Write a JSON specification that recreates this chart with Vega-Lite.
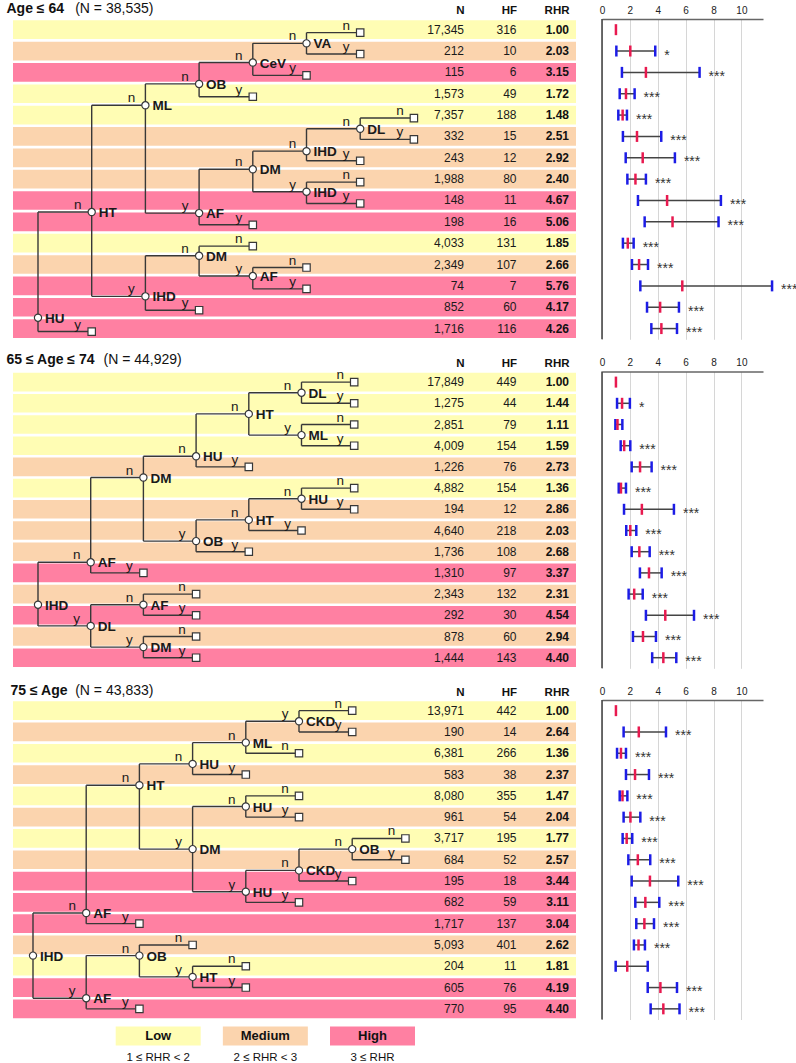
{
"$schema": "https://vega.github.io/schema/vega-lite/v6.json",
"padding": {"left": 3, "top": 1, "right": 4, "bottom": 4},
"background": "white",
"bounds": "flush",
"spacing": 31.5,
"config": {"font": "Liberation Sans", "view": {"stroke": null}},
"datasets": {
"rows1": [
{"r":0,"N":17345,"HF":316,"RHR":1.00,"risk":"Low","lo":null,"hi":null,"sig":""},
{"r":1,"N":212,"HF":10,"RHR":2.03,"risk":"Medium","lo":1.03,"hi":3.82,"sig":"*"},
{"r":2,"N":115,"HF":6,"RHR":3.15,"risk":"High","lo":1.43,"hi":7.0,"sig":"***"},
{"r":3,"N":1573,"HF":49,"RHR":1.72,"risk":"Low","lo":1.27,"hi":2.34,"sig":"***"},
{"r":4,"N":7357,"HF":188,"RHR":1.48,"risk":"Low","lo":1.17,"hi":1.79,"sig":"***"},
{"r":5,"N":332,"HF":15,"RHR":2.51,"risk":"Medium","lo":1.5,"hi":4.25,"sig":"***"},
{"r":6,"N":243,"HF":12,"RHR":2.92,"risk":"Medium","lo":1.7,"hi":5.23,"sig":"***"},
{"r":7,"N":1988,"HF":80,"RHR":2.40,"risk":"Medium","lo":1.82,"hi":3.15,"sig":"***"},
{"r":8,"N":148,"HF":11,"RHR":4.67,"risk":"High","lo":2.58,"hi":8.53,"sig":"***"},
{"r":9,"N":198,"HF":16,"RHR":5.06,"risk":"High","lo":3.06,"hi":8.36,"sig":"***"},
{"r":10,"N":4033,"HF":131,"RHR":1.85,"risk":"Low","lo":1.5,"hi":2.27,"sig":"***"},
{"r":11,"N":2349,"HF":107,"RHR":2.66,"risk":"Medium","lo":2.15,"hi":3.3,"sig":"***"},
{"r":12,"N":74,"HF":7,"RHR":5.76,"risk":"High","lo":2.75,"hi":12.2,"sig":"***"},
{"r":13,"N":852,"HF":60,"RHR":4.17,"risk":"High","lo":3.23,"hi":5.52,"sig":"***"},
{"r":14,"N":1716,"HF":116,"RHR":4.26,"risk":"High","lo":3.54,"hi":5.38,"sig":"***"}
],
"rows2": [
{"r":0,"N":17849,"HF":449,"RHR":1.00,"risk":"Low","lo":null,"hi":null,"sig":""},
{"r":1,"N":1275,"HF":44,"RHR":1.44,"risk":"Low","lo":1.08,"hi":2.0,"sig":"*"},
{"r":2,"N":2851,"HF":79,"RHR":1.11,"risk":"Low","lo":0.96,"hi":1.46,"sig":""},
{"r":3,"N":4009,"HF":154,"RHR":1.59,"risk":"Low","lo":1.34,"hi":2.03,"sig":"***"},
{"r":4,"N":1226,"HF":76,"RHR":2.73,"risk":"Medium","lo":2.13,"hi":3.56,"sig":"***"},
{"r":5,"N":4882,"HF":154,"RHR":1.36,"risk":"Low","lo":1.2,"hi":1.72,"sig":"***"},
{"r":6,"N":194,"HF":12,"RHR":2.86,"risk":"Medium","lo":1.58,"hi":5.16,"sig":"***"},
{"r":7,"N":4640,"HF":218,"RHR":2.03,"risk":"Medium","lo":1.74,"hi":2.46,"sig":"***"},
{"r":8,"N":1736,"HF":108,"RHR":2.68,"risk":"Medium","lo":2.13,"hi":3.42,"sig":"***"},
{"r":9,"N":1310,"HF":97,"RHR":3.37,"risk":"High","lo":2.72,"hi":4.28,"sig":"***"},
{"r":10,"N":2343,"HF":132,"RHR":2.31,"risk":"Medium","lo":1.91,"hi":2.92,"sig":"***"},
{"r":11,"N":292,"HF":30,"RHR":4.54,"risk":"High","lo":3.15,"hi":6.6,"sig":"***"},
{"r":12,"N":878,"HF":60,"RHR":2.94,"risk":"Medium","lo":2.22,"hi":3.87,"sig":"***"},
{"r":13,"N":1444,"HF":143,"RHR":4.40,"risk":"High","lo":3.6,"hi":5.33,"sig":"***"}
],
"rows3": [
{"r":0,"N":13971,"HF":442,"RHR":1.00,"risk":"Low","lo":null,"hi":null,"sig":""},
{"r":1,"N":190,"HF":14,"RHR":2.64,"risk":"Medium","lo":1.55,"hi":4.59,"sig":"***"},
{"r":2,"N":6381,"HF":266,"RHR":1.36,"risk":"Low","lo":1.08,"hi":1.72,"sig":"***"},
{"r":3,"N":583,"HF":38,"RHR":2.37,"risk":"Medium","lo":1.72,"hi":3.37,"sig":"***"},
{"r":4,"N":8080,"HF":355,"RHR":1.47,"risk":"Low","lo":1.27,"hi":1.82,"sig":"***"},
{"r":5,"N":961,"HF":54,"RHR":2.04,"risk":"Medium","lo":1.55,"hi":2.75,"sig":"***"},
{"r":6,"N":3717,"HF":195,"RHR":1.77,"risk":"Low","lo":1.48,"hi":2.17,"sig":"***"},
{"r":7,"N":684,"HF":52,"RHR":2.57,"risk":"Medium","lo":1.89,"hi":3.46,"sig":"***"},
{"r":8,"N":195,"HF":18,"RHR":3.44,"risk":"High","lo":2.13,"hi":5.47,"sig":"***"},
{"r":9,"N":682,"HF":59,"RHR":3.11,"risk":"High","lo":2.39,"hi":4.11,"sig":"***"},
{"r":10,"N":1717,"HF":137,"RHR":3.04,"risk":"High","lo":2.46,"hi":3.73,"sig":"***"},
{"r":11,"N":5093,"HF":401,"RHR":2.62,"risk":"Medium","lo":2.29,"hi":3.08,"sig":"***"},
{"r":12,"N":204,"HF":11,"RHR":1.81,"risk":"Low","lo":0.98,"hi":3.28,"sig":""},
{"r":13,"N":605,"HF":76,"RHR":4.19,"risk":"High","lo":3.28,"hi":5.38,"sig":"***"},
{"r":14,"N":770,"HF":95,"RHR":4.40,"risk":"High","lo":3.49,"hi":5.56,"sig":"***"}
],
"tree1": [
{"id":"a","lvl":0,"r":13.35,"name":"HU","leaf":false},
{"id":"b","p":"a","plvl":0,"lvl":1,"r":8.4,"br":"n","name":"HT","leaf":false},
{"id":"c","p":"b","plvl":1,"lvl":2,"r":3.4,"br":"n","name":"ML","leaf":false},
{"id":"d","p":"c","plvl":2,"lvl":3,"r":2.4,"br":"n","name":"OB","leaf":false},
{"id":"e","p":"d","plvl":3,"lvl":4,"r":1.4,"br":"n","name":"CeV","leaf":false},
{"id":"f","p":"e","plvl":4,"lvl":5,"r":0.5,"br":"n","name":"VA","leaf":false},
{"p":"f","plvl":5,"lvl":6,"r":0,"br":"n","leaf":true},
{"p":"f","plvl":5,"lvl":6,"r":1,"br":"y","leaf":true},
{"p":"e","plvl":4,"lvl":5,"r":2,"br":"y","leaf":true},
{"p":"d","plvl":3,"lvl":4,"r":3,"br":"y","leaf":true},
{"id":"g","p":"c","plvl":2,"lvl":3,"r":8.45,"br":"y","name":"AF","leaf":false},
{"id":"h","p":"g","plvl":3,"lvl":4,"r":6.4,"br":"n","name":"DM","leaf":false},
{"id":"i","p":"h","plvl":4,"lvl":5,"r":5.55,"br":"n","name":"IHD","leaf":false},
{"id":"j","p":"i","plvl":5,"lvl":6,"r":4.5,"br":"n","name":"DL","leaf":false},
{"p":"j","plvl":6,"lvl":7,"r":4,"br":"n","leaf":true},
{"p":"j","plvl":6,"lvl":7,"r":5,"br":"y","leaf":true},
{"p":"i","plvl":5,"lvl":6,"r":6,"br":"y","leaf":true},
{"id":"k","p":"h","plvl":4,"lvl":5,"r":7.45,"br":"y","name":"IHD","leaf":false},
{"p":"k","plvl":5,"lvl":6,"r":7,"br":"n","leaf":true},
{"p":"k","plvl":5,"lvl":6,"r":8,"br":"y","leaf":true},
{"p":"g","plvl":3,"lvl":4,"r":9,"br":"y","leaf":true},
{"id":"l","p":"b","plvl":1,"lvl":2,"r":12.35,"br":"y","name":"IHD","leaf":false},
{"id":"m","p":"l","plvl":2,"lvl":3,"r":10.45,"br":"n","name":"DM","leaf":false},
{"p":"m","plvl":3,"lvl":4,"r":10,"br":"n","leaf":true},
{"id":"o","p":"m","plvl":3,"lvl":4,"r":11.4,"br":"y","name":"AF","leaf":false},
{"p":"o","plvl":4,"lvl":5,"r":11,"br":"n","leaf":true},
{"p":"o","plvl":4,"lvl":5,"r":12,"br":"y","leaf":true},
{"p":"l","plvl":2,"lvl":3,"r":13,"br":"y","leaf":true},
{"p":"a","plvl":0,"lvl":1,"r":14,"br":"y","leaf":true}
],
"tree2": [
{"id":"a","lvl":0,"r":10.5,"name":"IHD","leaf":false},
{"id":"b","p":"a","plvl":0,"lvl":1,"r":8.5,"br":"n","name":"AF","leaf":false},
{"id":"c","p":"b","plvl":1,"lvl":2,"r":4.5,"br":"n","name":"DM","leaf":false},
{"id":"d","p":"c","plvl":2,"lvl":3,"r":3.5,"br":"n","name":"HU","leaf":false},
{"id":"e","p":"d","plvl":3,"lvl":4,"r":1.5,"br":"n","name":"HT","leaf":false},
{"id":"f","p":"e","plvl":4,"lvl":5,"r":0.5,"br":"n","name":"DL","leaf":false},
{"p":"f","plvl":5,"lvl":6,"r":0,"br":"n","leaf":true},
{"p":"f","plvl":5,"lvl":6,"r":1,"br":"y","leaf":true},
{"id":"g","p":"e","plvl":4,"lvl":5,"r":2.5,"br":"y","name":"ML","leaf":false},
{"p":"g","plvl":5,"lvl":6,"r":2,"br":"n","leaf":true},
{"p":"g","plvl":5,"lvl":6,"r":3,"br":"y","leaf":true},
{"p":"d","plvl":3,"lvl":4,"r":4,"br":"y","leaf":true},
{"id":"h","p":"c","plvl":2,"lvl":3,"r":7.5,"br":"y","name":"OB","leaf":false},
{"id":"i","p":"h","plvl":3,"lvl":4,"r":6.5,"br":"n","name":"HT","leaf":false},
{"id":"j","p":"i","plvl":4,"lvl":5,"r":5.5,"br":"n","name":"HU","leaf":false},
{"p":"j","plvl":5,"lvl":6,"r":5,"br":"n","leaf":true},
{"p":"j","plvl":5,"lvl":6,"r":6,"br":"y","leaf":true},
{"p":"i","plvl":4,"lvl":5,"r":7,"br":"y","leaf":true},
{"p":"h","plvl":3,"lvl":4,"r":8,"br":"y","leaf":true},
{"p":"b","plvl":1,"lvl":2,"r":9,"br":"y","leaf":true},
{"id":"k","p":"a","plvl":0,"lvl":1,"r":11.5,"br":"y","name":"DL","leaf":false},
{"id":"l","p":"k","plvl":1,"lvl":2,"r":10.5,"br":"n","name":"AF","leaf":false},
{"p":"l","plvl":2,"lvl":3,"r":10,"br":"n","leaf":true},
{"p":"l","plvl":2,"lvl":3,"r":11,"br":"y","leaf":true},
{"id":"m","p":"k","plvl":1,"lvl":2,"r":12.5,"br":"y","name":"DM","leaf":false},
{"p":"m","plvl":2,"lvl":3,"r":12,"br":"n","leaf":true},
{"p":"m","plvl":2,"lvl":3,"r":13,"br":"y","leaf":true}
],
"tree3": [
{"id":"a","lvl":0,"r":11.5,"name":"IHD","leaf":false},
{"id":"b","p":"a","plvl":0,"lvl":1,"r":9.5,"br":"n","name":"AF","leaf":false},
{"id":"c","p":"b","plvl":1,"lvl":2,"r":3.5,"br":"n","name":"HT","leaf":false},
{"id":"d","p":"c","plvl":2,"lvl":3,"r":2.5,"br":"n","name":"HU","leaf":false},
{"id":"e","p":"d","plvl":3,"lvl":4,"r":1.5,"br":"n","name":"ML","leaf":false},
{"id":"f","p":"e","plvl":4,"lvl":5,"r":0.5,"br":"y","name":"CKD","leaf":false},
{"p":"f","plvl":5,"lvl":6,"r":0,"br":"n","leaf":true},
{"p":"f","plvl":5,"lvl":6,"r":1,"br":"y","leaf":true},
{"p":"e","plvl":4,"lvl":5,"r":2,"br":"n","leaf":true},
{"p":"d","plvl":3,"lvl":4,"r":3,"br":"y","leaf":true},
{"id":"g","p":"c","plvl":2,"lvl":3,"r":6.5,"br":"y","name":"DM","leaf":false},
{"id":"h","p":"g","plvl":3,"lvl":4,"r":4.5,"br":"n","name":"HU","leaf":false},
{"p":"h","plvl":4,"lvl":5,"r":4,"br":"n","leaf":true},
{"p":"h","plvl":4,"lvl":5,"r":5,"br":"y","leaf":true},
{"id":"i","p":"g","plvl":3,"lvl":4,"r":8.5,"br":"y","name":"HU","leaf":false},
{"id":"j","p":"i","plvl":4,"lvl":5,"r":7.5,"br":"n","name":"CKD","leaf":false},
{"id":"k","p":"j","plvl":5,"lvl":6,"r":6.5,"br":"n","name":"OB","leaf":false},
{"p":"k","plvl":6,"lvl":7,"r":6,"br":"n","leaf":true},
{"p":"k","plvl":6,"lvl":7,"r":7,"br":"y","leaf":true},
{"p":"j","plvl":5,"lvl":6,"r":8,"br":"y","leaf":true},
{"p":"i","plvl":4,"lvl":5,"r":9,"br":"y","leaf":true},
{"p":"b","plvl":1,"lvl":2,"r":10,"br":"y","leaf":true},
{"id":"l","p":"a","plvl":0,"lvl":1,"r":13.5,"br":"y","name":"AF","leaf":false},
{"id":"m","p":"l","plvl":1,"lvl":2,"r":11.5,"br":"n","name":"OB","leaf":false},
{"p":"m","plvl":2,"lvl":3,"r":11,"br":"n","leaf":true},
{"id":"o","p":"m","plvl":2,"lvl":3,"r":12.5,"br":"y","name":"HT","leaf":false},
{"p":"o","plvl":3,"lvl":4,"r":12,"br":"n","leaf":true},
{"p":"o","plvl":3,"lvl":4,"r":13,"br":"y","leaf":true},
{"p":"l","plvl":1,"lvl":2,"r":14,"br":"y","leaf":true}
],
"legend": [
{"cat":"Low","grp":"RHR","range":"1 ≤ RHR < 2"},
{"cat":"Medium","grp":"RHR","range":"2 ≤ RHR < 3"},
{"cat":"High","grp":"RHR","range":"3 ≤ RHR"}
]
},
"vconcat": [
{
"width": 563, "height": 320.25,
"resolve": {"scale": {"x": "independent", "y": "independent"}},
"layer": [
{"data": {"name": "rows1"}, "mark": {"type": "rule", "strokeWidth": 18.7, "strokeCap": "butt"},
 "encoding": {
  "y": {"field": "r", "type": "quantitative", "scale": {"domain": [-0.5, 14.5], "reverse": true, "nice": false, "zero": false},
   "axis": {"title": "(N = 38,535)", "orient": "left", "labels": false, "ticks": false, "domain": false, "grid": false, "titleAngle": 0, "titleAlign": "left", "titleBaseline": "alphabetic", "titleX": 61.7, "titleY": -6.2, "titleFontSize": 14, "titleFontWeight": "normal", "titleColor": "#111111"}},
  "color": {"field": "risk", "type": "nominal", "scale": {"domain": ["Low", "Medium", "High"], "range": ["#FFFDB4", "#FBD4AE", "#FF80A2"]}, "legend": null}}},
{"data": {"name": "tree1"}, "transform": [{"filter": "datum.p != null"}], "mark": {"type": "rule", "color": "#383838", "strokeWidth": 1.4},
 "encoding": {
  "x": {"field": "plvl", "type": "quantitative", "scale": {"domain": [0, 7], "range": [25, 400.9], "nice": false, "zero": false},
   "axis": {"orient": "top", "labels": false, "ticks": false, "domain": false, "grid": false, "title": "Age ≤ 64", "titleX": -7, "titleY": -6.2, "titleAlign": "left", "titleBaseline": "alphabetic", "titleAngle": 0, "titleFontSize": 14, "titleFontWeight": "bold", "titleColor": "#111111"}},
  "x2": {"field": "lvl"},
  "y": {"field": "r", "type": "quantitative", "scale": {"domain": [-0.6405, 14.3595], "reverse": true, "nice": false, "zero": false}, "axis": null}}},
{"data": {"name": "tree1"}, "transform": [{"filter": "datum.p != null"}, {"aggregate": [{"op": "min", "field": "r", "as": "r"}, {"op": "max", "field": "r", "as": "r2"}], "groupby": ["p", "plvl"]}],
 "mark": {"type": "rule", "color": "#383838", "strokeWidth": 1.4},
 "encoding": {
  "x": {"field": "plvl", "type": "quantitative", "scale": {"domain": [0, 7], "range": [25, 400.9], "nice": false, "zero": false}, "axis": null},
  "y": {"field": "r", "type": "quantitative", "scale": {"domain": [-0.6405, 14.3595], "reverse": true, "nice": false, "zero": false}, "axis": null},
  "y2": {"field": "r2"}}},
{"data": {"name": "tree1"}, "transform": [{"filter": "datum.leaf"}],
 "mark": {"type": "point", "shape": "square", "size": 55, "filled": true, "fill": "#ffffff", "stroke": "#383838", "strokeWidth": 1.2, "opacity": 1},
 "encoding": {
  "x": {"field": "lvl", "type": "quantitative", "scale": {"domain": [0, 7], "range": [25, 400.9], "nice": false, "zero": false}, "axis": null},
  "y": {"field": "r", "type": "quantitative", "scale": {"domain": [-0.6405, 14.3595], "reverse": true, "nice": false, "zero": false}, "axis": null}}},
{"data": {"name": "tree1"}, "transform": [{"filter": "!datum.leaf"}],
 "mark": {"type": "point", "shape": "circle", "size": 52, "filled": true, "fill": "#ffffff", "stroke": "#383838", "strokeWidth": 1.2, "opacity": 1},
 "encoding": {
  "x": {"field": "lvl", "type": "quantitative", "scale": {"domain": [0, 7], "range": [25, 400.9], "nice": false, "zero": false}, "axis": null},
  "y": {"field": "r", "type": "quantitative", "scale": {"domain": [-0.6405, 14.3595], "reverse": true, "nice": false, "zero": false}, "axis": null}}},
{"data": {"name": "tree1"}, "transform": [{"filter": "!datum.leaf"}],
 "mark": {"type": "text", "align": "left", "baseline": "middle", "dx": 7, "dy": 1, "fontSize": 13.5, "fontWeight": "bold", "color": "#1a1a1a"},
 "encoding": {
  "x": {"field": "lvl", "type": "quantitative", "scale": {"domain": [0, 7], "range": [25, 400.9], "nice": false, "zero": false}, "axis": null},
  "y": {"field": "r", "type": "quantitative", "scale": {"domain": [-0.6405, 14.3595], "reverse": true, "nice": false, "zero": false}, "axis": null},
  "text": {"field": "name"}}},
{"data": {"name": "tree1"}, "transform": [{"filter": "datum.p != null"}],
 "mark": {"type": "text", "align": "center", "baseline": "alphabetic", "dx": -14, "dy": -3, "fontSize": 13.5, "color": "#1a1a1a"},
 "encoding": {
  "x": {"field": "lvl", "type": "quantitative", "scale": {"domain": [0, 7], "range": [25, 400.9], "nice": false, "zero": false}, "axis": null},
  "y": {"field": "r", "type": "quantitative", "scale": {"domain": [-0.6405, 14.3595], "reverse": true, "nice": false, "zero": false}, "axis": null},
  "text": {"field": "br"}}},
{"data": {"name": "rows1"}, "mark": {"type": "text", "align": "right", "baseline": "middle", "fontSize": 12, "color": "#1a1a1a"},
 "encoding": {
  "x": {"datum": "N", "type": "nominal", "scale": {"type": "point", "domain": ["N", "HF", "RHR"], "range": [451, 556], "padding": 0},
   "axis": {"orient": "top", "title": null, "ticks": false, "tickSize": 0, "domain": false, "grid": false, "labelAngle": 0, "labelAlign": "right", "labelFontSize": 11.5, "labelFontWeight": "bold", "labelPadding": 3.3, "labelColor": "#111111"}},
  "y": {"field": "r", "type": "quantitative", "scale": {"domain": [-0.5, 14.5], "reverse": true, "nice": false, "zero": false}, "axis": null},
  "text": {"field": "N", "type": "quantitative", "format": ","}}},
{"data": {"name": "rows1"}, "mark": {"type": "text", "align": "right", "baseline": "middle", "fontSize": 12, "color": "#1a1a1a"},
 "encoding": {
  "x": {"datum": "HF", "type": "nominal", "scale": {"type": "point", "domain": ["N", "HF", "RHR"], "range": [451, 556], "padding": 0}, "axis": null},
  "y": {"field": "r", "type": "quantitative", "scale": {"domain": [-0.5, 14.5], "reverse": true, "nice": false, "zero": false}, "axis": null},
  "text": {"field": "HF", "type": "quantitative"}}},
{"data": {"name": "rows1"}, "mark": {"type": "text", "align": "right", "baseline": "middle", "fontSize": 12, "fontWeight": "bold", "color": "#111111"},
 "encoding": {
  "x": {"datum": "RHR", "type": "nominal", "scale": {"type": "point", "domain": ["N", "HF", "RHR"], "range": [451, 556], "padding": 0}, "axis": null},
  "y": {"field": "r", "type": "quantitative", "scale": {"domain": [-0.5, 14.5], "reverse": true, "nice": false, "zero": false}, "axis": null},
  "text": {"field": "RHR", "type": "quantitative", "format": ".2f"}}},
{"data": {"name": "rows1"}, "transform": [{"filter": "datum.lo != null"}], "mark": {"type": "rule", "color": "#444444", "strokeWidth": 1.5},
 "encoding": {
  "x": {"field": "lo", "type": "quantitative", "scale": {"domain": [0, 11.55], "range": [589, 750], "nice": false, "zero": false},
   "axis": {"orient": "top", "values": [0, 2, 4, 6, 8, 10], "title": null, "grid": true, "gridColor": "#d6d6d6", "gridWidth": 1, "domain": true, "domainColor": "#666666", "domainWidth": 1.5, "ticks": false, "tickSize": 0, "labelFontSize": 10, "labelPadding": 4, "labelColor": "#222222", "labelFlush": false, "labelAngle": 0, "labelOverlap": false}},
  "x2": {"field": "hi"},
  "y": {"field": "r", "type": "quantitative", "scale": {"domain": [-0.5, 14.5], "reverse": true, "nice": false, "zero": false}, "axis": null}}},
{"data": {"values": [{}]}, "mark": {"type": "rule", "color": "#222222", "strokeWidth": 1.3},
 "encoding": {
  "x": {"datum": 0, "type": "quantitative", "scale": {"domain": [0, 11.55], "range": [589, 750], "nice": false, "zero": false}, "axis": null}}},
{"data": {"name": "rows1"}, "transform": [{"filter": "datum.lo != null"}], "mark": {"type": "tick", "orient": "vertical", "size": 11, "thickness": 2.5, "color": "#1c1ce6", "opacity": 1},
 "encoding": {
  "x": {"field": "lo", "type": "quantitative", "scale": {"domain": [0, 11.55], "range": [589, 750], "nice": false, "zero": false}, "axis": null},
  "y": {"field": "r", "type": "quantitative", "scale": {"domain": [-0.5, 14.5], "reverse": true, "nice": false, "zero": false}, "axis": null}}},
{"data": {"name": "rows1"}, "transform": [{"filter": "datum.hi != null"}], "mark": {"type": "tick", "orient": "vertical", "size": 11, "thickness": 2.5, "color": "#1c1ce6", "opacity": 1},
 "encoding": {
  "x": {"field": "hi", "type": "quantitative", "scale": {"domain": [0, 11.55], "range": [589, 750], "nice": false, "zero": false}, "axis": null},
  "y": {"field": "r", "type": "quantitative", "scale": {"domain": [-0.5, 14.5], "reverse": true, "nice": false, "zero": false}, "axis": null}}},
{"data": {"name": "rows1"}, "mark": {"type": "tick", "orient": "vertical", "size": 11, "thickness": 2.5, "color": "#e8194f", "opacity": 1},
 "encoding": {
  "x": {"field": "RHR", "type": "quantitative", "scale": {"domain": [0, 11.55], "range": [589, 750], "nice": false, "zero": false}, "axis": null},
  "y": {"field": "r", "type": "quantitative", "scale": {"domain": [-0.5, 14.5], "reverse": true, "nice": false, "zero": false}, "axis": null}}},
{"data": {"name": "rows1"}, "transform": [{"filter": "datum.hi != null"}], "mark": {"type": "text", "align": "left", "baseline": "alphabetic", "dx": 9, "dy": 8.5, "fontSize": 14, "color": "#333333"},
 "encoding": {
  "x": {"field": "hi", "type": "quantitative", "scale": {"domain": [0, 11.55], "range": [589, 750], "nice": false, "zero": false}, "axis": null},
  "y": {"field": "r", "type": "quantitative", "scale": {"domain": [-0.5, 14.5], "reverse": true, "nice": false, "zero": false}, "axis": null},
  "text": {"field": "sig"}}}
]
},
{
"width": 563, "height": 296.8,
"resolve": {"scale": {"x": "independent", "y": "independent"}},
"layer": [
{"data": {"name": "rows2"}, "mark": {"type": "rule", "strokeWidth": 18.6, "strokeCap": "butt"},
 "encoding": {
  "y": {"field": "r", "type": "quantitative", "scale": {"domain": [-0.5, 13.5], "reverse": true, "nice": false, "zero": false},
   "axis": {"title": "(N = 44,929)", "orient": "left", "labels": false, "ticks": false, "domain": false, "grid": false, "titleAngle": 0, "titleAlign": "left", "titleBaseline": "alphabetic", "titleX": 90, "titleY": -8.5, "titleFontSize": 14, "titleFontWeight": "normal", "titleColor": "#111111"}},
  "color": {"field": "risk", "type": "nominal", "scale": {"domain": ["Low", "Medium", "High"], "range": ["#FFFDB4", "#FBD4AE", "#FF80A2"]}, "legend": null}}},
{"data": {"name": "tree2"}, "transform": [{"filter": "datum.p != null"}], "mark": {"type": "rule", "color": "#383838", "strokeWidth": 1.4},
 "encoding": {
  "x": {"field": "plvl", "type": "quantitative", "scale": {"domain": [0, 7], "range": [25, 393.9], "nice": false, "zero": false},
   "axis": {"orient": "top", "labels": false, "ticks": false, "domain": false, "grid": false, "title": "65 ≤ Age ≤ 74", "titleX": -7, "titleY": -8.5, "titleAlign": "left", "titleBaseline": "alphabetic", "titleAngle": 0, "titleFontSize": 14, "titleFontWeight": "bold", "titleColor": "#111111"}},
  "x2": {"field": "lvl"},
  "y": {"field": "r", "type": "quantitative", "scale": {"domain": [-0.5, 13.5], "reverse": true, "nice": false, "zero": false}, "axis": null}}},
{"data": {"name": "tree2"}, "transform": [{"filter": "datum.p != null"}, {"aggregate": [{"op": "min", "field": "r", "as": "r"}, {"op": "max", "field": "r", "as": "r2"}], "groupby": ["p", "plvl"]}],
 "mark": {"type": "rule", "color": "#383838", "strokeWidth": 1.4},
 "encoding": {
  "x": {"field": "plvl", "type": "quantitative", "scale": {"domain": [0, 7], "range": [25, 393.9], "nice": false, "zero": false}, "axis": null},
  "y": {"field": "r", "type": "quantitative", "scale": {"domain": [-0.5, 13.5], "reverse": true, "nice": false, "zero": false}, "axis": null},
  "y2": {"field": "r2"}}},
{"data": {"name": "tree2"}, "transform": [{"filter": "datum.leaf"}],
 "mark": {"type": "point", "shape": "square", "size": 55, "filled": true, "fill": "#ffffff", "stroke": "#383838", "strokeWidth": 1.2, "opacity": 1},
 "encoding": {
  "x": {"field": "lvl", "type": "quantitative", "scale": {"domain": [0, 7], "range": [25, 393.9], "nice": false, "zero": false}, "axis": null},
  "y": {"field": "r", "type": "quantitative", "scale": {"domain": [-0.5, 13.5], "reverse": true, "nice": false, "zero": false}, "axis": null}}},
{"data": {"name": "tree2"}, "transform": [{"filter": "!datum.leaf"}],
 "mark": {"type": "point", "shape": "circle", "size": 52, "filled": true, "fill": "#ffffff", "stroke": "#383838", "strokeWidth": 1.2, "opacity": 1},
 "encoding": {
  "x": {"field": "lvl", "type": "quantitative", "scale": {"domain": [0, 7], "range": [25, 393.9], "nice": false, "zero": false}, "axis": null},
  "y": {"field": "r", "type": "quantitative", "scale": {"domain": [-0.5, 13.5], "reverse": true, "nice": false, "zero": false}, "axis": null}}},
{"data": {"name": "tree2"}, "transform": [{"filter": "!datum.leaf"}],
 "mark": {"type": "text", "align": "left", "baseline": "middle", "dx": 7, "dy": 1, "fontSize": 13.5, "fontWeight": "bold", "color": "#1a1a1a"},
 "encoding": {
  "x": {"field": "lvl", "type": "quantitative", "scale": {"domain": [0, 7], "range": [25, 393.9], "nice": false, "zero": false}, "axis": null},
  "y": {"field": "r", "type": "quantitative", "scale": {"domain": [-0.5, 13.5], "reverse": true, "nice": false, "zero": false}, "axis": null},
  "text": {"field": "name"}}},
{"data": {"name": "tree2"}, "transform": [{"filter": "datum.p != null"}],
 "mark": {"type": "text", "align": "center", "baseline": "alphabetic", "dx": -14, "dy": -3, "fontSize": 13.5, "color": "#1a1a1a"},
 "encoding": {
  "x": {"field": "lvl", "type": "quantitative", "scale": {"domain": [0, 7], "range": [25, 393.9], "nice": false, "zero": false}, "axis": null},
  "y": {"field": "r", "type": "quantitative", "scale": {"domain": [-0.5, 13.5], "reverse": true, "nice": false, "zero": false}, "axis": null},
  "text": {"field": "br"}}},
{"data": {"name": "rows2"}, "mark": {"type": "text", "align": "right", "baseline": "middle", "fontSize": 12, "color": "#1a1a1a"},
 "encoding": {
  "x": {"datum": "N", "type": "nominal", "scale": {"type": "point", "domain": ["N", "HF", "RHR"], "range": [451, 556], "padding": 0},
   "axis": {"orient": "top", "title": null, "ticks": false, "tickSize": 0, "domain": false, "grid": false, "labelAngle": 0, "labelAlign": "right", "labelFontSize": 11.5, "labelFontWeight": "bold", "labelPadding": 3, "labelColor": "#111111"}},
  "y": {"field": "r", "type": "quantitative", "scale": {"domain": [-0.5, 13.5], "reverse": true, "nice": false, "zero": false}, "axis": null},
  "text": {"field": "N", "type": "quantitative", "format": ","}}},
{"data": {"name": "rows2"}, "mark": {"type": "text", "align": "right", "baseline": "middle", "fontSize": 12, "color": "#1a1a1a"},
 "encoding": {
  "x": {"datum": "HF", "type": "nominal", "scale": {"type": "point", "domain": ["N", "HF", "RHR"], "range": [451, 556], "padding": 0}, "axis": null},
  "y": {"field": "r", "type": "quantitative", "scale": {"domain": [-0.5, 13.5], "reverse": true, "nice": false, "zero": false}, "axis": null},
  "text": {"field": "HF", "type": "quantitative"}}},
{"data": {"name": "rows2"}, "mark": {"type": "text", "align": "right", "baseline": "middle", "fontSize": 12, "fontWeight": "bold", "color": "#111111"},
 "encoding": {
  "x": {"datum": "RHR", "type": "nominal", "scale": {"type": "point", "domain": ["N", "HF", "RHR"], "range": [451, 556], "padding": 0}, "axis": null},
  "y": {"field": "r", "type": "quantitative", "scale": {"domain": [-0.5, 13.5], "reverse": true, "nice": false, "zero": false}, "axis": null},
  "text": {"field": "RHR", "type": "quantitative", "format": ".2f"}}},
{"data": {"name": "rows2"}, "transform": [{"filter": "datum.lo != null"}], "mark": {"type": "rule", "color": "#444444", "strokeWidth": 1.5},
 "encoding": {
  "x": {"field": "lo", "type": "quantitative", "scale": {"domain": [0, 11.55], "range": [589, 750], "nice": false, "zero": false},
   "axis": {"orient": "top", "values": [0, 2, 4, 6, 8, 10], "title": null, "grid": true, "gridColor": "#d6d6d6", "gridWidth": 1, "domain": true, "domainColor": "#666666", "domainWidth": 1.5, "ticks": false, "tickSize": 0, "labelFontSize": 10, "labelPadding": 3.7, "labelColor": "#222222", "labelFlush": false, "labelAngle": 0, "labelOverlap": false}},
  "x2": {"field": "hi"},
  "y": {"field": "r", "type": "quantitative", "scale": {"domain": [-0.5, 13.5], "reverse": true, "nice": false, "zero": false}, "axis": null}}},
{"data": {"values": [{}]}, "mark": {"type": "rule", "color": "#222222", "strokeWidth": 1.3},
 "encoding": {
  "x": {"datum": 0, "type": "quantitative", "scale": {"domain": [0, 11.55], "range": [589, 750], "nice": false, "zero": false}, "axis": null}}},
{"data": {"name": "rows2"}, "transform": [{"filter": "datum.lo != null"}], "mark": {"type": "tick", "orient": "vertical", "size": 11, "thickness": 2.5, "color": "#1c1ce6", "opacity": 1},
 "encoding": {
  "x": {"field": "lo", "type": "quantitative", "scale": {"domain": [0, 11.55], "range": [589, 750], "nice": false, "zero": false}, "axis": null},
  "y": {"field": "r", "type": "quantitative", "scale": {"domain": [-0.5, 13.5], "reverse": true, "nice": false, "zero": false}, "axis": null}}},
{"data": {"name": "rows2"}, "transform": [{"filter": "datum.hi != null"}], "mark": {"type": "tick", "orient": "vertical", "size": 11, "thickness": 2.5, "color": "#1c1ce6", "opacity": 1},
 "encoding": {
  "x": {"field": "hi", "type": "quantitative", "scale": {"domain": [0, 11.55], "range": [589, 750], "nice": false, "zero": false}, "axis": null},
  "y": {"field": "r", "type": "quantitative", "scale": {"domain": [-0.5, 13.5], "reverse": true, "nice": false, "zero": false}, "axis": null}}},
{"data": {"name": "rows2"}, "mark": {"type": "tick", "orient": "vertical", "size": 11, "thickness": 2.5, "color": "#e8194f", "opacity": 1},
 "encoding": {
  "x": {"field": "RHR", "type": "quantitative", "scale": {"domain": [0, 11.55], "range": [589, 750], "nice": false, "zero": false}, "axis": null},
  "y": {"field": "r", "type": "quantitative", "scale": {"domain": [-0.5, 13.5], "reverse": true, "nice": false, "zero": false}, "axis": null}}},
{"data": {"name": "rows2"}, "transform": [{"filter": "datum.hi != null"}], "mark": {"type": "text", "align": "left", "baseline": "alphabetic", "dx": 9, "dy": 8.5, "fontSize": 14, "color": "#333333"},
 "encoding": {
  "x": {"field": "hi", "type": "quantitative", "scale": {"domain": [0, 11.55], "range": [589, 750], "nice": false, "zero": false}, "axis": null},
  "y": {"field": "r", "type": "quantitative", "scale": {"domain": [-0.5, 13.5], "reverse": true, "nice": false, "zero": false}, "axis": null},
  "text": {"field": "sig"}}}
]
},
{
"width": 563, "height": 319.5,
"resolve": {"scale": {"x": "independent", "y": "independent"}},
"layer": [
{"data": {"name": "rows3"}, "mark": {"type": "rule", "strokeWidth": 18.7, "strokeCap": "butt"},
 "encoding": {
  "y": {"field": "r", "type": "quantitative", "scale": {"domain": [-0.5, 14.5], "reverse": true, "nice": false, "zero": false},
   "axis": {"title": "(N = 43,833)", "orient": "left", "labels": false, "ticks": false, "domain": false, "grid": false, "titleAngle": 0, "titleAlign": "left", "titleBaseline": "alphabetic", "titleX": 61.7, "titleY": -5.3, "titleFontSize": 14, "titleFontWeight": "normal", "titleColor": "#111111"}},
  "color": {"field": "risk", "type": "nominal", "scale": {"domain": ["Low", "Medium", "High"], "range": ["#FFFDB4", "#FBD4AE", "#FF80A2"]}, "legend": null}}},
{"data": {"name": "tree3"}, "transform": [{"filter": "datum.p != null"}], "mark": {"type": "rule", "color": "#383838", "strokeWidth": 1.4},
 "encoding": {
  "x": {"field": "plvl", "type": "quantitative", "scale": {"domain": [0, 7], "range": [20, 392.4], "nice": false, "zero": false},
   "axis": {"orient": "top", "labels": false, "ticks": false, "domain": false, "grid": false, "title": "75 ≤ Age", "titleX": -3, "titleY": -5.3, "titleAlign": "left", "titleBaseline": "alphabetic", "titleAngle": 0, "titleFontSize": 14, "titleFontWeight": "bold", "titleColor": "#111111"}},
  "x2": {"field": "lvl"},
  "y": {"field": "r", "type": "quantitative", "scale": {"domain": [-0.5, 14.5], "reverse": true, "nice": false, "zero": false}, "axis": null}}},
{"data": {"name": "tree3"}, "transform": [{"filter": "datum.p != null"}, {"aggregate": [{"op": "min", "field": "r", "as": "r"}, {"op": "max", "field": "r", "as": "r2"}], "groupby": ["p", "plvl"]}],
 "mark": {"type": "rule", "color": "#383838", "strokeWidth": 1.4},
 "encoding": {
  "x": {"field": "plvl", "type": "quantitative", "scale": {"domain": [0, 7], "range": [20, 392.4], "nice": false, "zero": false}, "axis": null},
  "y": {"field": "r", "type": "quantitative", "scale": {"domain": [-0.5, 14.5], "reverse": true, "nice": false, "zero": false}, "axis": null},
  "y2": {"field": "r2"}}},
{"data": {"name": "tree3"}, "transform": [{"filter": "datum.leaf"}],
 "mark": {"type": "point", "shape": "square", "size": 55, "filled": true, "fill": "#ffffff", "stroke": "#383838", "strokeWidth": 1.2, "opacity": 1},
 "encoding": {
  "x": {"field": "lvl", "type": "quantitative", "scale": {"domain": [0, 7], "range": [20, 392.4], "nice": false, "zero": false}, "axis": null},
  "y": {"field": "r", "type": "quantitative", "scale": {"domain": [-0.5, 14.5], "reverse": true, "nice": false, "zero": false}, "axis": null}}},
{"data": {"name": "tree3"}, "transform": [{"filter": "!datum.leaf"}],
 "mark": {"type": "point", "shape": "circle", "size": 52, "filled": true, "fill": "#ffffff", "stroke": "#383838", "strokeWidth": 1.2, "opacity": 1},
 "encoding": {
  "x": {"field": "lvl", "type": "quantitative", "scale": {"domain": [0, 7], "range": [20, 392.4], "nice": false, "zero": false}, "axis": null},
  "y": {"field": "r", "type": "quantitative", "scale": {"domain": [-0.5, 14.5], "reverse": true, "nice": false, "zero": false}, "axis": null}}},
{"data": {"name": "tree3"}, "transform": [{"filter": "!datum.leaf"}],
 "mark": {"type": "text", "align": "left", "baseline": "middle", "dx": 7, "dy": 1, "fontSize": 13.5, "fontWeight": "bold", "color": "#1a1a1a"},
 "encoding": {
  "x": {"field": "lvl", "type": "quantitative", "scale": {"domain": [0, 7], "range": [20, 392.4], "nice": false, "zero": false}, "axis": null},
  "y": {"field": "r", "type": "quantitative", "scale": {"domain": [-0.5, 14.5], "reverse": true, "nice": false, "zero": false}, "axis": null},
  "text": {"field": "name"}}},
{"data": {"name": "tree3"}, "transform": [{"filter": "datum.p != null"}],
 "mark": {"type": "text", "align": "center", "baseline": "alphabetic", "dx": -14, "dy": -3, "fontSize": 13.5, "color": "#1a1a1a"},
 "encoding": {
  "x": {"field": "lvl", "type": "quantitative", "scale": {"domain": [0, 7], "range": [20, 392.4], "nice": false, "zero": false}, "axis": null},
  "y": {"field": "r", "type": "quantitative", "scale": {"domain": [-0.5, 14.5], "reverse": true, "nice": false, "zero": false}, "axis": null},
  "text": {"field": "br"}}},
{"data": {"name": "rows3"}, "mark": {"type": "text", "align": "right", "baseline": "middle", "fontSize": 12, "color": "#1a1a1a"},
 "encoding": {
  "x": {"datum": "N", "type": "nominal", "scale": {"type": "point", "domain": ["N", "HF", "RHR"], "range": [451, 556], "padding": 0},
   "axis": {"orient": "top", "title": null, "ticks": false, "tickSize": 0, "domain": false, "grid": false, "labelAngle": 0, "labelAlign": "right", "labelFontSize": 11.5, "labelFontWeight": "bold", "labelPadding": 3, "labelColor": "#111111"}},
  "y": {"field": "r", "type": "quantitative", "scale": {"domain": [-0.5, 14.5], "reverse": true, "nice": false, "zero": false}, "axis": null},
  "text": {"field": "N", "type": "quantitative", "format": ","}}},
{"data": {"name": "rows3"}, "mark": {"type": "text", "align": "right", "baseline": "middle", "fontSize": 12, "color": "#1a1a1a"},
 "encoding": {
  "x": {"datum": "HF", "type": "nominal", "scale": {"type": "point", "domain": ["N", "HF", "RHR"], "range": [451, 556], "padding": 0}, "axis": null},
  "y": {"field": "r", "type": "quantitative", "scale": {"domain": [-0.5, 14.5], "reverse": true, "nice": false, "zero": false}, "axis": null},
  "text": {"field": "HF", "type": "quantitative"}}},
{"data": {"name": "rows3"}, "mark": {"type": "text", "align": "right", "baseline": "middle", "fontSize": 12, "fontWeight": "bold", "color": "#111111"},
 "encoding": {
  "x": {"datum": "RHR", "type": "nominal", "scale": {"type": "point", "domain": ["N", "HF", "RHR"], "range": [451, 556], "padding": 0}, "axis": null},
  "y": {"field": "r", "type": "quantitative", "scale": {"domain": [-0.5, 14.5], "reverse": true, "nice": false, "zero": false}, "axis": null},
  "text": {"field": "RHR", "type": "quantitative", "format": ".2f"}}},
{"data": {"name": "rows3"}, "transform": [{"filter": "datum.lo != null"}], "mark": {"type": "rule", "color": "#444444", "strokeWidth": 1.5},
 "encoding": {
  "x": {"field": "lo", "type": "quantitative", "scale": {"domain": [0, 11.55], "range": [589, 750], "nice": false, "zero": false},
   "axis": {"orient": "top", "values": [0, 2, 4, 6, 8, 10], "title": null, "grid": true, "gridColor": "#d6d6d6", "gridWidth": 1, "domain": true, "domainColor": "#666666", "domainWidth": 1.5, "ticks": false, "tickSize": 0, "labelFontSize": 10, "labelPadding": 3.7, "labelColor": "#222222", "labelFlush": false, "labelAngle": 0, "labelOverlap": false}},
  "x2": {"field": "hi"},
  "y": {"field": "r", "type": "quantitative", "scale": {"domain": [-0.5, 14.5], "reverse": true, "nice": false, "zero": false}, "axis": null}}},
{"data": {"values": [{}]}, "mark": {"type": "rule", "color": "#222222", "strokeWidth": 1.3},
 "encoding": {
  "x": {"datum": 0, "type": "quantitative", "scale": {"domain": [0, 11.55], "range": [589, 750], "nice": false, "zero": false}, "axis": null}}},
{"data": {"name": "rows3"}, "transform": [{"filter": "datum.lo != null"}], "mark": {"type": "tick", "orient": "vertical", "size": 11, "thickness": 2.5, "color": "#1c1ce6", "opacity": 1},
 "encoding": {
  "x": {"field": "lo", "type": "quantitative", "scale": {"domain": [0, 11.55], "range": [589, 750], "nice": false, "zero": false}, "axis": null},
  "y": {"field": "r", "type": "quantitative", "scale": {"domain": [-0.5, 14.5], "reverse": true, "nice": false, "zero": false}, "axis": null}}},
{"data": {"name": "rows3"}, "transform": [{"filter": "datum.hi != null"}], "mark": {"type": "tick", "orient": "vertical", "size": 11, "thickness": 2.5, "color": "#1c1ce6", "opacity": 1},
 "encoding": {
  "x": {"field": "hi", "type": "quantitative", "scale": {"domain": [0, 11.55], "range": [589, 750], "nice": false, "zero": false}, "axis": null},
  "y": {"field": "r", "type": "quantitative", "scale": {"domain": [-0.5, 14.5], "reverse": true, "nice": false, "zero": false}, "axis": null}}},
{"data": {"name": "rows3"}, "mark": {"type": "tick", "orient": "vertical", "size": 11, "thickness": 2.5, "color": "#e8194f", "opacity": 1},
 "encoding": {
  "x": {"field": "RHR", "type": "quantitative", "scale": {"domain": [0, 11.55], "range": [589, 750], "nice": false, "zero": false}, "axis": null},
  "y": {"field": "r", "type": "quantitative", "scale": {"domain": [-0.5, 14.5], "reverse": true, "nice": false, "zero": false}, "axis": null}}},
{"data": {"name": "rows3"}, "transform": [{"filter": "datum.hi != null"}], "mark": {"type": "text", "align": "left", "baseline": "alphabetic", "dx": 9, "dy": 8.5, "fontSize": 14, "color": "#333333"},
 "encoding": {
  "x": {"field": "hi", "type": "quantitative", "scale": {"domain": [0, 11.55], "range": [589, 750], "nice": false, "zero": false}, "axis": null},
  "y": {"field": "r", "type": "quantitative", "scale": {"domain": [-0.5, 14.5], "reverse": true, "nice": false, "zero": false}, "axis": null},
  "text": {"field": "sig"}}},
{"data": {"name": "legend"}, "mark": {"type": "rect"},
 "encoding": {
  "x": {"field": "cat", "type": "nominal", "scale": {"type": "band", "domain": ["Low", "Medium", "High"], "range": [102.7, 402], "paddingInner": 0.2067, "paddingOuter": 0}, "axis": null},
  "y": {"field": "grp", "type": "nominal", "scale": {"type": "band", "domain": ["RHR"], "range": [326.5, 345.5], "paddingInner": 0, "paddingOuter": 0}, "axis": null},
  "color": {"field": "cat", "type": "nominal", "scale": {"domain": ["Low", "Medium", "High"], "range": ["#FFFDB4", "#FBD4AE", "#FF80A2"]}, "legend": null}}},
{"data": {"name": "legend"}, "mark": {"type": "text", "align": "center", "baseline": "middle", "fontSize": 13, "fontWeight": "bold", "color": "#111111"},
 "encoding": {
  "x": {"field": "cat", "type": "nominal", "scale": {"type": "band", "domain": ["Low", "Medium", "High"], "range": [102.7, 402], "paddingInner": 0.2067, "paddingOuter": 0}, "axis": null},
  "y": {"field": "grp", "type": "nominal", "scale": {"type": "band", "domain": ["RHR"], "range": [326.5, 345.5], "paddingInner": 0, "paddingOuter": 0}, "axis": null},
  "text": {"field": "cat"}}},
{"data": {"name": "legend"}, "mark": {"type": "text", "align": "center", "baseline": "middle", "dy": 22, "fontSize": 11.5, "color": "#111111"},
 "encoding": {
  "x": {"field": "cat", "type": "nominal", "scale": {"type": "band", "domain": ["Low", "Medium", "High"], "range": [102.7, 402], "paddingInner": 0.2067, "paddingOuter": 0}, "axis": null},
  "y": {"field": "grp", "type": "nominal", "scale": {"type": "band", "domain": ["RHR"], "range": [326.5, 345.5], "paddingInner": 0, "paddingOuter": 0}, "axis": null},
  "text": {"field": "range"}}}
]
}
]
}
